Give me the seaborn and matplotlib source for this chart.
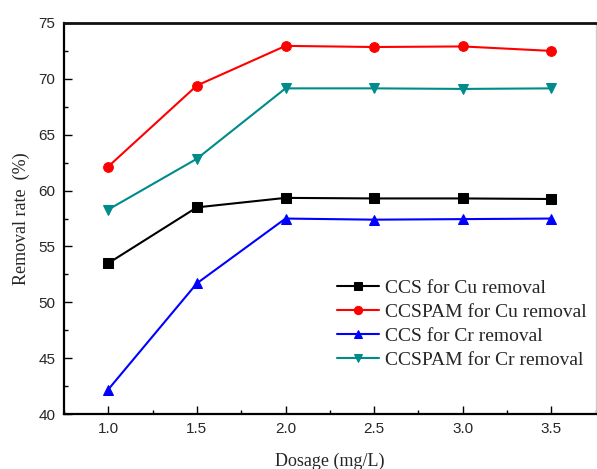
import numpy as np
import pandas as pd
import seaborn as sns
import matplotlib.pyplot as plt
from matplotlib.ticker import MultipleLocator

dosage = [1.0, 1.5, 2.0, 2.5, 3.0, 3.5]

ccs_cu = [53.5, 58.5, 59.35, 59.3, 59.3, 59.25]
ccspam_cu = [62.15, 69.4, 72.95, 72.85, 72.9, 72.5]
ccs_cr = [42.2, 51.7, 57.5, 57.4, 57.45, 57.5]
ccspam_cr = [58.3, 62.85, 69.15, 69.15, 69.1, 69.15]

labels = ["CCS for Cu removal", "CCSPAM for Cu removal",
          "CCS for Cr removal", "CCSPAM for Cr removal"]
colors = ["black", "red", "blue", "#008B8B"]
markers = ["s", "o", "^", "v"]

sns.set_style("white", {"axes.spines.top": True, "axes.spines.right": True,
                        "axes.edgecolor": "black"})
plt.rcParams["font.family"] = ["Liberation Sans", "DejaVu Sans"]
plt.rcParams["xtick.direction"] = "in"
plt.rcParams["ytick.direction"] = "in"
plt.rcParams["xtick.bottom"] = True
plt.rcParams["ytick.left"] = True

fig = plt.figure(figsize=(5.97, 4.69), dpi=100)
ax = fig.add_axes([0.107, 0.117, 0.891, 0.834])

series = [ccs_cu, ccspam_cu, ccs_cr, ccspam_cr]
for vals, lab, c, m in zip(series, labels, colors, markers):
    df = pd.DataFrame({"dosage": dosage, "rate": vals})
    sns.lineplot(data=df, x="dosage", y="rate", ax=ax, color=c, marker=m,
                 markersize=7, markeredgecolor=c, linewidth=1.5, label=lab)

ax.set_xlim(0.75, 3.75)
ax.set_ylim(40, 75)
ax.xaxis.set_major_locator(MultipleLocator(0.5))
ax.xaxis.set_minor_locator(MultipleLocator(0.25))
ax.yaxis.set_major_locator(MultipleLocator(5))
ax.yaxis.set_minor_locator(MultipleLocator(2.5))
ax.tick_params(which="major", length=6, width=1, labelsize=11, pad=6,
               color="black", top=False, right=False)
ax.tick_params(which="minor", length=3, width=1, color="black",
               top=False, right=False)
ax.xaxis.set_major_formatter(plt.FormatStrFormatter("%.1f"))

for side in ["left", "bottom"]:
    ax.spines[side].set_color("black")
    ax.spines[side].set_linewidth(1.6)
ax.spines["top"].set_visible(True)
ax.spines["top"].set_color("#111111")
ax.spines["top"].set_linewidth(2.0)
ax.spines["right"].set_visible(True)
ax.spines["right"].set_color("#cccccc")
ax.spines["right"].set_linewidth(1.0)

serif = {"family": ["Liberation Serif", "DejaVu Serif"], "size": 13}
ax.set_xlabel("Dosage (mg/L)", fontdict=serif, labelpad=12)
ax.set_ylabel("Removal rate  (%)", fontdict=serif, labelpad=6)

ax.legend(loc="upper left", bbox_to_anchor=(0.498, 0.365), frameon=False,
          prop={"family": "Liberation Serif", "size": 14},
          handlelength=2.2, handletextpad=0.3, labelspacing=0.33,
          borderaxespad=0, markerscale=0.85)

fig.savefig("out.png", dpi=100)
